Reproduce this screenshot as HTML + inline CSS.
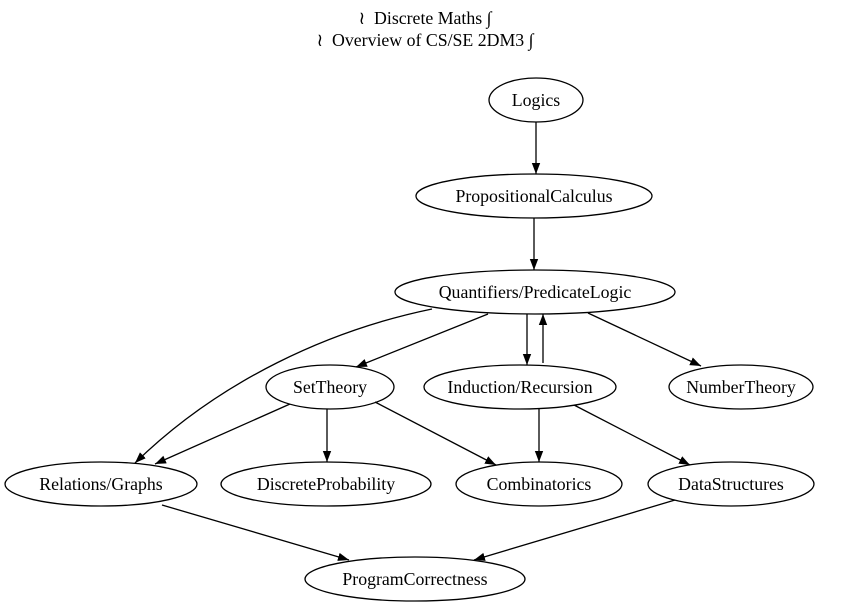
<!DOCTYPE html>
<html><head><style>
html,body{margin:0;padding:0;background:#fff;}
svg text{font-family:"Liberation Serif","DejaVu Serif",serif;font-size:17.8px;fill:#000;}
</style></head><body>
<svg width="850" height="609" viewBox="0 0 850 609" xmlns="http://www.w3.org/2000/svg">
<defs><marker id="a" viewBox="0 0 10 10" refX="10" refY="5" markerWidth="11" markerHeight="11" markerUnits="userSpaceOnUse" orient="auto"><path d="M0,1.2 L10,5 L0,8.8 Z" fill="#000"/></marker></defs>
<text x="425" y="24" text-anchor="middle">≀&#160;&#160;Discrete Maths&#160;∫</text>
<text x="425" y="46" text-anchor="middle">≀&#160;&#160;Overview of CS/SE 2DM3&#160;∫</text>
<g fill="none" stroke="#000" stroke-width="1.3">
<ellipse cx="536" cy="100" rx="47" ry="22"/>
<ellipse cx="534" cy="196" rx="118" ry="22"/>
<ellipse cx="535" cy="292" rx="140" ry="22"/>
<ellipse cx="330" cy="387" rx="64" ry="22"/>
<ellipse cx="520" cy="387" rx="96" ry="22"/>
<ellipse cx="741" cy="387" rx="72" ry="22"/>
<ellipse cx="101" cy="484" rx="96" ry="22"/>
<ellipse cx="326" cy="484" rx="105" ry="22"/>
<ellipse cx="539" cy="484" rx="83" ry="22"/>
<ellipse cx="731" cy="484" rx="83" ry="22"/>
<ellipse cx="415" cy="579" rx="110" ry="22"/>
<g marker-end="url(#a)">
<path d="M536,122 L536,174"/>
<path d="M534,218 L534,270"/>
<path d="M527,314 L527,365"/>
<path d="M543,363 L543,314"/>
<path d="M488,314 L356,367"/>
<path d="M588,313 L701,366"/>
<path d="M432,309 C330,330 220,380 135,463"/>
<path d="M290,404 L155,464"/>
<path d="M327,409 L327,462"/>
<path d="M375,402 L496,465"/>
<path d="M539,409 L539,462"/>
<path d="M574,405 L690,465"/>
<path d="M162,505 L349,560"/>
<path d="M675,500 L474,560"/>
</g></g>
<text x="536" y="106" text-anchor="middle">Logics</text>
<text x="534" y="202" text-anchor="middle">PropositionalCalculus</text>
<text x="535" y="298" text-anchor="middle">Quantifiers/PredicateLogic</text>
<text x="330" y="393" text-anchor="middle">SetTheory</text>
<text x="520" y="393" text-anchor="middle">Induction/Recursion</text>
<text x="741" y="393" text-anchor="middle">NumberTheory</text>
<text x="101" y="490" text-anchor="middle">Relations/Graphs</text>
<text x="326" y="490" text-anchor="middle">DiscreteProbability</text>
<text x="539" y="490" text-anchor="middle">Combinatorics</text>
<text x="731" y="490" text-anchor="middle">DataStructures</text>
<text x="415" y="585" text-anchor="middle">ProgramCorrectness</text>
</svg>
</body></html>
